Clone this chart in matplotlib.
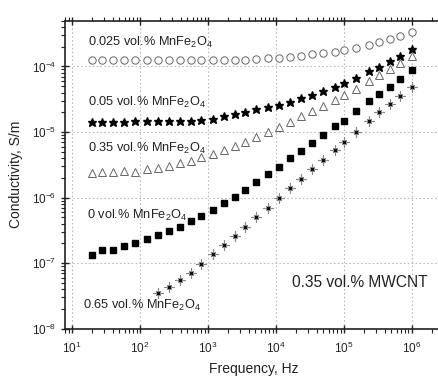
import matplotlib.pyplot as plt
from matplotlib.ticker import LogLocator, NullFormatter

plt.rcParams['font.family'] = ['Liberation Sans', 'DejaVu Sans']
plt.rcParams['mathtext.default'] = 'regular'

# measurement frequencies, Hz
freq = [20, 28, 40, 59, 86, 126, 184, 264, 384, 557, 807, 1190, 1720, 2500,
        3580, 5200, 7700, 11200, 16400, 23900, 34700, 49700, 73800, 101000,
        150000, 233000, 330000, 474000, 667000, 1000000]

# conductivity, S/m
s_0025 = [1.24e-4, 1.24e-4, 1.24e-4, 1.25e-4, 1.25e-4, 1.25e-4, 1.25e-4, 1.25e-4,
          1.26e-4, 1.26e-4, 1.26e-4, 1.26e-4, 1.27e-4, 1.27e-4, 1.27e-4, 1.30e-4,
          1.325e-4, 1.36e-4, 1.41e-4, 1.46e-4, 1.53e-4, 1.62e-4, 1.69e-4, 1.80e-4,
          1.93e-4, 2.16e-4, 2.36e-4, 2.63e-4, 2.91e-4, 3.39e-4]
s_005 = [1.42e-5, 1.43e-5, 1.43e-5, 1.44e-5, 1.45e-5, 1.46e-5, 1.47e-5, 1.48e-5,
         1.49e-5, 1.50e-5, 1.52e-5, 1.575e-5, 1.74e-5, 1.88e-5, 2.03e-5, 2.21e-5,
         2.43e-5, 2.63e-5, 2.92e-5, 3.31e-5, 3.70e-5, 4.21e-5, 4.90e-5, 5.58e-5,
         6.56e-5, 8.39e-5, 9.9e-5, 1.21e-4, 1.46e-4, 1.85e-4]
s_035 = [2.36e-6, 2.44e-6, 2.49e-6, 2.56e-6, 2.50e-6, 2.74e-6, 2.87e-6, 3.08e-6,
         3.35e-6, 3.67e-6, 4.14e-6, 4.65e-6, 5.26e-6, 6.22e-6, 7.16e-6, 8.45e-6,
         9.96e-6, 1.18e-5, 1.42e-5, 1.75e-5, 2.09e-5, 2.51e-5, 3.10e-5, 3.70e-5,
         4.53e-5, 6.05e-5, 7.30e-5, 9.16e-5, 1.13e-4, 1.44e-4]
s_0 = [1.33e-7, 1.57e-7, 1.59e-7, 1.85e-7, 2.06e-7, 2.32e-7, 2.67e-7, 3.10e-7,
       3.61e-7, 4.37e-7, 5.26e-7, 6.49e-7, 8.22e-7, 1.03e-6, 1.31e-6, 1.72e-6,
       2.28e-6, 2.97e-6, 3.96e-6, 5.1e-6, 6.9e-6, 9.06e-6, 1.23e-5, 1.5e-5,
       2.06e-5, 2.96e-5, 3.83e-5, 4.95e-5, 6.49e-5, 8.7e-5]
# 0.65 vol.% starts at the 7th frequency
s_065 = [3.55e-8, 4.36e-8, 5.60e-8, 7.16e-8, 9.82e-8, 1.37e-7, 1.92e-7, 2.63e-7,
         3.61e-7, 5.07e-7, 7.03e-7, 9.79e-7, 1.38e-6, 1.95e-6, 2.77e-6, 3.77e-6,
         5.26e-6, 6.97e-6, 9.89e-6, 1.50e-5, 2.00e-5, 2.67e-5, 3.60e-5, 4.90e-5]
freq_065 = freq[6:]

fig = plt.figure(figsize=(4.38, 3.76), dpi=100)
ax = fig.add_axes([0.1484, 0.1258, 0.8630, 0.8192])

ax.plot(freq, s_0025, 'o', ms=5.3, mfc='white', mec='#666666', mew=0.7, ls='none')
ax.plot(freq, s_005, '*', ms=6.4, color='black', ls='none')
ax.plot(freq, s_035, '^', ms=6, mfc='white', mec='#666666', mew=0.7, ls='none')
ax.plot(freq, s_0, 's', ms=4.5, color='black', ls='none')
ax.plot(freq_065, s_065, marker=(4, 2, 0), ms=7, mec='#888888', mew=0.8, ls='none')
ax.plot(freq_065, s_065, 'x', ms=3.5, mec='black', mew=0.9, ls='none')

ax.set_xscale('log')
ax.set_yscale('log')
ax.set_xlim(7.9, 2.9e6)
ax.set_ylim(1e-8, 5e-4)

ax.xaxis.set_major_locator(LogLocator(base=10, numticks=10))
ax.xaxis.set_minor_locator(LogLocator(base=10, subs=range(2, 10), numticks=20))
ax.yaxis.set_minor_locator(LogLocator(base=10, subs=range(2, 10), numticks=20))
ax.xaxis.set_minor_formatter(NullFormatter())
ax.yaxis.set_minor_formatter(NullFormatter())

ax.grid(True, which='major', ls=(0, (1.5, 2)), color='#bbbbbb', lw=0.8)
ax.tick_params(which='major', direction='inout', length=6, width=1, labelsize=8.5,
               top=True, right=False, colors='#222222')
ax.tick_params(axis='x', which='major', pad=6)
ax.tick_params(which='minor', direction='out', length=3, width=0.8,
               top=True, right=False, colors='#222222')
for side in ['left', 'bottom', 'top']:
    ax.spines[side].set_linewidth(1.2)
    ax.spines[side].set_color('#222222')
ax.spines['right'].set_visible(False)

ax.set_xlabel('Frequency, Hz', fontsize=10, color='#222222', labelpad=4)
ax.set_ylabel('Conductivity, S/m', fontsize=10, color='#222222', labelpad=6)

lab = dict(fontsize=9.2, color='#222222', transform=ax.transAxes, va='center', ha='left')
ax.text(0.061, 0.930, '0.025 vol.% MnFe$_2$O$_4$', **lab)
ax.text(0.061, 0.735, '0.05 vol.% MnFe$_2$O$_4$', **lab)
ax.text(0.061, 0.586, '0.35 vol.% MnFe$_2$O$_4$', **lab)
ax.text(0.059, 0.369, '0 vol.% MnFe$_2$O$_4$', **lab)
ax.text(0.048, 0.076, '0.65 vol.% MnFe$_2$O$_4$', **lab)
ax.text(0.600, 0.149, '0.35 vol.% MWCNT', fontsize=11.2, color='#222222',
        transform=ax.transAxes, va='center', ha='left')

fig.savefig('out.png', dpi=100)
